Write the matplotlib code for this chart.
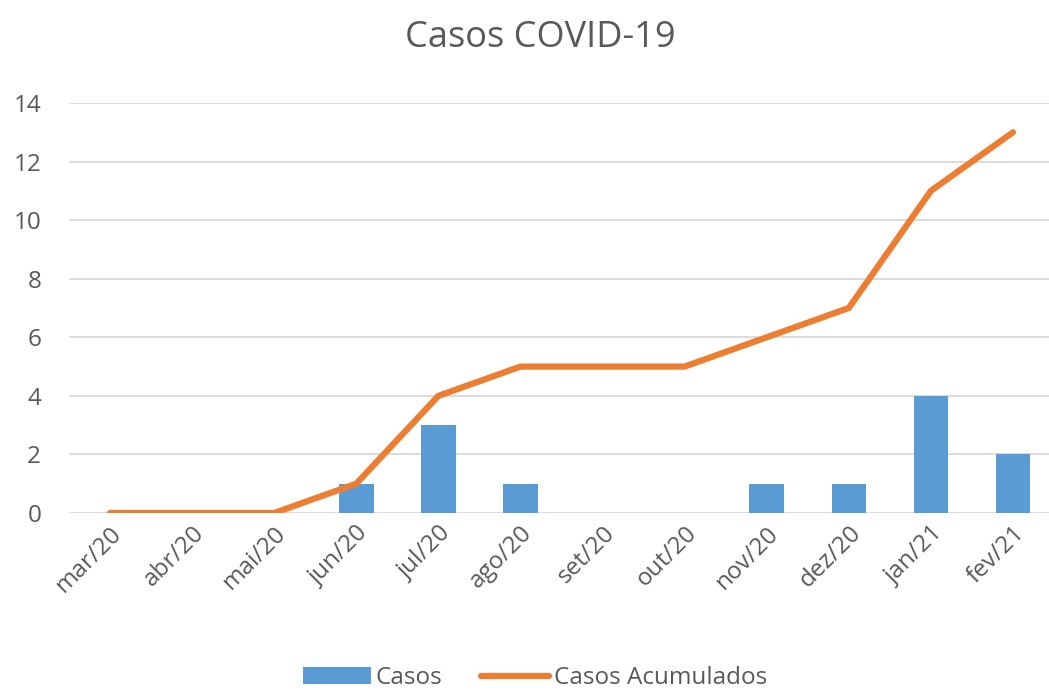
import matplotlib.pyplot as plt

plt.rcParams['font.family'] = ['Open Sans', 'DejaVu Sans']

# data
meses = ['mar/20', 'abr/20', 'mai/20', 'jun/20', 'jul/20', 'ago/20',
         'set/20', 'out/20', 'nov/20', 'dez/20', 'jan/21', 'fev/21']
casos = [0, 0, 0, 1, 3, 1, 0, 0, 1, 1, 4, 2]
acumulados = [0, 0, 0, 1, 4, 5, 5, 5, 6, 7, 11, 13]

txt = '#595959'

fig = plt.figure(figsize=(10.49, 6.9), dpi=100)
ax = fig.add_axes([69 / 1049, 177 / 690, 985 / 1049, 410 / 690])

x = range(len(meses))
bars = ax.bar(x, casos, width=0.42, color='#5B9BD5', label='Casos', zorder=2)
line, = ax.plot(x, acumulados, color='#ED7D31', linewidth=4.5,
                solid_capstyle='round', label='Casos Acumulados', zorder=3)

ax.set_xlim(-0.5, len(meses) - 0.5)
ax.set_ylim(0, 14)
ax.set_yticks(range(0, 15, 2))
ax.set_xticks(list(x))
ax.set_xticklabels(meses, rotation=45, ha='right', rotation_mode='anchor')
ax.tick_params(axis='both', length=0, colors=txt, labelsize=17.5)
ax.tick_params(axis='x', pad=6)
ax.tick_params(axis='y', pad=20)

ax.grid(axis='y', color='#D9D9D9', linewidth=1.3, zorder=0)
for s in ax.spines.values():
    s.set_visible(False)

fig.text(0.515, 0.945, 'Casos COVID-19', ha='center', va='center',
         fontsize=26, color=txt)

fig.legend([bars, line], ['Casos', 'Casos Acumulados'],
           loc='center', bbox_to_anchor=(0.51, 0.017), ncol=2, frameon=False,
           fontsize=17.5, labelcolor=txt, handlelength=2.8, handletextpad=0.2,
           columnspacing=1.6)

fig.savefig('out.png', dpi=100)
